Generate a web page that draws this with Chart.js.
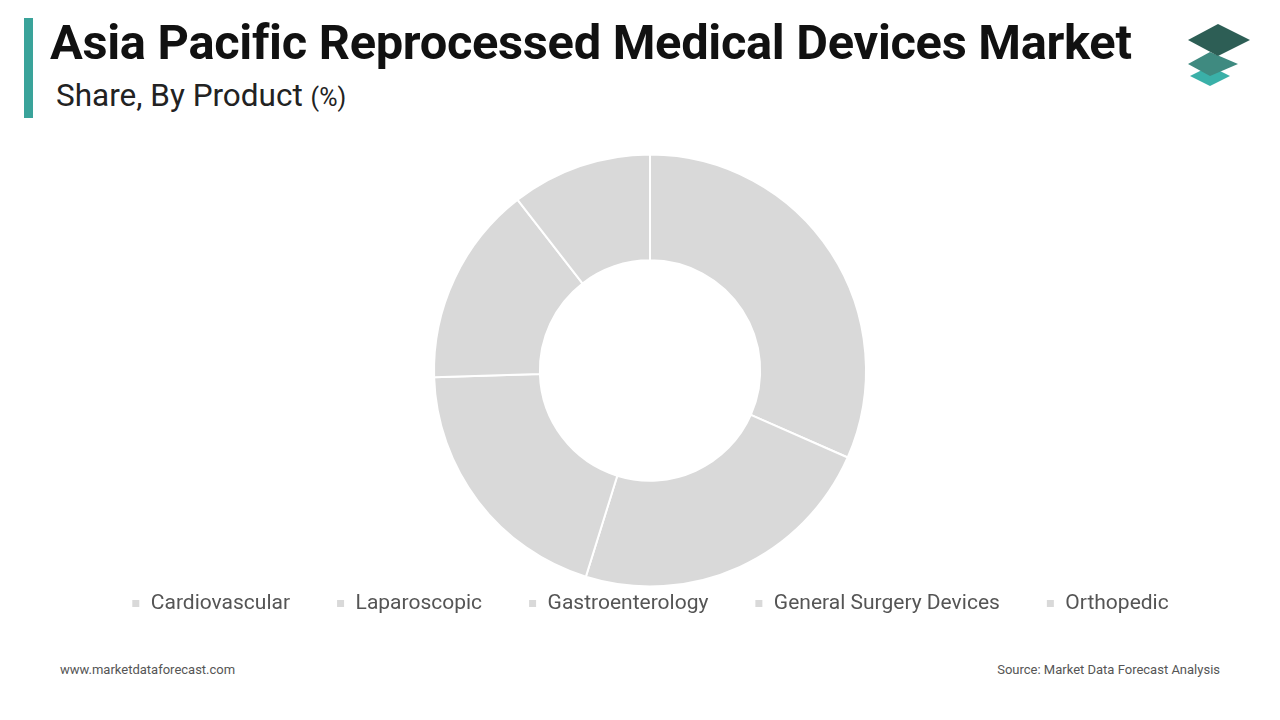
<!DOCTYPE html>
<html><head><meta charset="utf-8">
<script src="https://cdn.jsdelivr.net/npm/chart.js@4/dist/chart.umd.min.js"></script>
<style>
body{margin:0;width:1280px;height:720px;background:#fff;font-family:Roboto,sans-serif;position:relative;overflow:hidden}
#bar{position:absolute;left:24px;top:18px;width:9px;height:100px;background:#3aa39a}
#t{position:absolute;left:50px;top:14px;font-size:48.8px;font-weight:700;color:#111;letter-spacing:-0.3px}
#s{position:absolute;left:56px;top:77px;font-size:31.5px;color:#222}
#s small{font-size:25px}
#wrap{position:absolute;left:0;top:146px;width:1280px;height:478px}
.f{position:absolute;top:662px;font-size:13px;color:#555}
</style></head><body>
<div id="bar"></div>
<div id="t">Asia Pacific Reprocessed Medical Devices Market</div>
<div id="s">Share, By Product <small>(%)</small></div>
<svg style="position:absolute;left:1186px;top:22px" width="66" height="70" viewBox="0 0 66 70">
<polygon points="24,44 44,54 24,64 4,54" fill="#3ab0a8"/>
<polygon points="24,30 52,42 24,54 2,42" fill="#3f8a80"/>
<polygon points="32,2 64,18 32,34 2,18" fill="#2d5e55"/>
</svg>
<div id="wrap"><canvas id="c"></canvas></div>
<div class="f" style="left:60px">www.marketdataforecast.com</div>
<div class="f" style="right:60px">Source: Market Data Forecast Analysis</div>
<script>
const categories=["Cardiovascular","Laparoscopic","Gastroenterology","General Surgery Devices","Orthopedic"];
const shares=[31.6,23.2,19.7,15.0,10.5];
new Chart(document.getElementById('c'),{type:'doughnut',
data:{labels:categories,datasets:[{data:shares,backgroundColor:'#d9d9d9',borderColor:'#fff',borderWidth:2,hoverOffset:0}]},
options:{responsive:true,maintainAspectRatio:false,animation:false,cutout:'51%',radius:216,
layout:{padding:{top:48,left:20}},
plugins:{tooltip:{enabled:false},legend:{position:'bottom',labels:{boxWidth:9,boxHeight:9,padding:46,color:'#555',font:{family:'Roboto',size:21}}}}}});
</script>
</body></html>
